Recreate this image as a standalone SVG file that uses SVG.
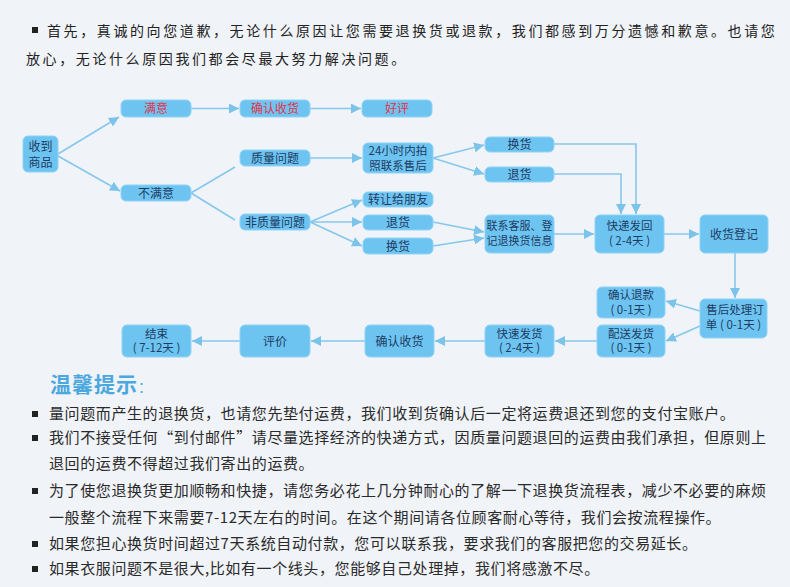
<svg xmlns="http://www.w3.org/2000/svg" width="790" height="587" viewBox="0 0 790 587">
<defs>
<marker id="arr" markerUnits="userSpaceOnUse" markerWidth="10" markerHeight="10" refX="10" refY="5" orient="auto">
<path d="M0,0 L10,5 L0,10 z" fill="#7cc3ea"/>
</marker>
<style>
.bg{fill:#f0f3f8}
.box{fill:#6ec4f1;stroke:#8fd3f6;stroke-width:1}
.nt{font-family:"Noto Sans CJK SC","Liberation Sans",sans-serif;font-size:12px;fill:#1d3c64;text-anchor:middle}
.red{fill:#e2334a}
.sm{font-size:11px}
.two{font-size:11.5px}
.con{fill:none;stroke:#86c8ec;stroke-width:1.6}
.ar{marker-end:url(#arr)}
.hd{font-family:"Noto Sans CJK SC","Liberation Sans",sans-serif;font-size:14px;fill:#222;letter-spacing:2.6px}
.bd{font-family:"Noto Sans CJK SC","Liberation Sans",sans-serif;font-size:15px;fill:#2a2a2a;letter-spacing:0.6px}
.bl{fill:#222}
.tt{font-family:"Noto Sans CJK SC","Liberation Sans",sans-serif;font-size:21px;font-weight:bold;fill:#4aa8de;letter-spacing:1px}
</style>
</defs>
<rect class="bg" x="0" y="0" width="790" height="587"/>

<g id="header">
<rect class="bl" x="32" y="27" width="6" height="6"/>
<text class="hd" x="47" y="36">首先，真诚的向您道歉，无论什么原因让您需要退换货或退款，我们都感到万分遗憾和歉意。也请您</text>
<text class="hd" x="26" y="64">放心，无论什么原因我们都会尽最大努力解决问题。</text>
</g>

<g id="connectors">
<path class="con ar" d="M58,154 L119,117"/>
<path class="con ar" d="M58,156 L120,191"/>
<path class="con ar" d="M191,108.5 L239,108.5"/>
<path class="con ar" d="M310,108.5 L361,108.5"/>
<path class="con" d="M191,193 L235,167"/>
<path class="con" d="M191,193 L235,220"/>
<path class="con ar" d="M310,158 L362,158"/>
<path class="con ar" d="M310,222 L362,200"/>
<path class="con ar" d="M310,222 L362,222"/>
<path class="con ar" d="M310,222 L362,246"/>
<path class="con ar" d="M433,158 L484,145"/>
<path class="con ar" d="M433,158 L484,174"/>
<path class="con ar" d="M433,222 L484,232"/>
<path class="con ar" d="M433,246 L484,238"/>
<path class="con ar" d="M554,144 L636,144 L636,214"/>
<path class="con ar" d="M554,174 L621,174 L621,214"/>
<path class="con ar" d="M554,234 L594,234"/>
<path class="con ar" d="M664,234 L699,234"/>
<path class="con ar" d="M735,253 L735,298"/>
<path class="con ar" d="M700,311 L666,301"/>
<path class="con ar" d="M700,326 L666,341"/>
<path class="con ar" d="M597,341 L555,341"/>
<path class="con ar" d="M485,341 L435,341"/>
<path class="con ar" d="M365,341 L311,341"/>
<path class="con ar" d="M240,341 L192,341"/>
</g>

<g id="n_received"><rect class="box" x="23" y="136" width="35" height="36" rx="5"/><text class="nt" x="40.5" y="150.5">收到</text><text class="nt" x="40.5" y="166.5">商品</text></g>
<g id="n_satisfied"><rect class="box" x="121" y="100" width="70" height="17" rx="5"/><text class="nt red" x="156" y="113">满意</text></g>
<g id="n_confirm1"><rect class="box" x="240" y="100" width="70" height="17" rx="5"/><text class="nt red" x="275" y="113">确认收货</text></g>
<g id="n_praise"><rect class="box" x="362" y="100" width="70" height="17" rx="5"/><text class="nt red" x="397" y="113">好评</text></g>
<g id="n_unsatisfied"><rect class="box" x="121" y="185" width="70" height="16" rx="5"/><text class="nt" x="156" y="197.5">不满意</text></g>
<g id="n_quality"><rect class="box" x="240" y="150" width="70" height="16" rx="5"/><text class="nt" x="275" y="162.5">质量问题</text></g>
<g id="n_nonquality"><rect class="box" x="240" y="214" width="70" height="16" rx="5"/><text class="nt" x="275" y="226.5">非质量问题</text></g>
<g id="n_24h"><rect class="box" x="363" y="143" width="70" height="30" rx="5"/><text class="nt two" x="398" y="154.5">24小时内拍</text><text class="nt two" x="398" y="169.5">照联系售后</text></g>
<g id="n_transfer"><rect class="box" x="363" y="192" width="70" height="15" rx="5"/><text class="nt" x="398" y="204">转让给朋友</text></g>
<g id="n_return1"><rect class="box" x="363" y="215" width="70" height="15" rx="5"/><text class="nt" x="398" y="227">退货</text></g>
<g id="n_exchange1"><rect class="box" x="363" y="238" width="70" height="16" rx="5"/><text class="nt" x="398" y="250.5">换货</text></g>
<g id="n_exchange2"><rect class="box" x="485" y="137" width="69" height="15" rx="5"/><text class="nt" x="519.5" y="149">换货</text></g>
<g id="n_return2"><rect class="box" x="485" y="167" width="69" height="15" rx="5"/><text class="nt" x="519.5" y="179">退货</text></g>
<g id="n_contact"><rect class="box" x="485" y="215" width="69" height="38" rx="5"/><text class="nt sm" x="519.5" y="230">联系客服、登</text><text class="nt sm" x="519.5" y="245">记退换货信息</text></g>
<g id="n_express_back"><rect class="box" x="595" y="215" width="69" height="38" rx="5"/><text class="nt two" x="629.5" y="230">快递发回</text><text class="nt two" x="629.5" y="245">( 2-4天 )</text></g>
<g id="n_register"><rect class="box" x="700" y="215" width="68" height="38" rx="5"/><text class="nt" x="734" y="238.5">收货登记</text></g>
<g id="n_aftersale"><rect class="box" x="700" y="299" width="67" height="39" rx="5"/><text class="nt two" x="735" y="314">售后处理订</text><text class="nt two" x="733.5" y="329">单 ( 0-1天 )</text></g>
<g id="n_refund"><rect class="box" x="597" y="287" width="68" height="31" rx="5"/><text class="nt two" x="631" y="299">确认退款</text><text class="nt two" x="631" y="313.5">( 0-1天 )</text></g>
<g id="n_ship"><rect class="box" x="597" y="325" width="68" height="32" rx="5"/><text class="nt two" x="631" y="337.5">配送发货</text><text class="nt two" x="631" y="352">( 0-1天 )</text></g>
<g id="n_fastship"><rect class="box" x="485" y="325" width="69" height="32" rx="5"/><text class="nt two" x="519.5" y="337.5">快速发货</text><text class="nt two" x="519.5" y="352">( 2-4天 )</text></g>
<g id="n_confirm2"><rect class="box" x="365" y="325" width="69" height="32" rx="5"/><text class="nt" x="399.5" y="345.5">确认收货</text></g>
<g id="n_review"><rect class="box" x="240" y="325" width="70" height="32" rx="5"/><text class="nt" x="275" y="345.5">评价</text></g>
<g id="n_end"><rect class="box" x="122" y="325" width="69" height="32" rx="5"/><text class="nt two" x="156.5" y="337.5">结束</text><text class="nt two" x="156.5" y="352">( 7-12天 )</text></g>

<g id="tips">
<text class="tt" x="50" y="392">温馨提示<tspan style="font-size:14px;font-weight:normal">：</tspan></text>
<rect class="bl" x="32" y="411" width="6" height="6"/>
<text class="bd" x="49" y="419">量问题而产生的退换货，也请您先垫付运费，我们收到货确认后一定将运费退还到您的支付宝账户。</text>
<rect class="bl" x="32" y="435" width="6" height="6"/>
<text class="bd" x="49" y="443">我们不接受任何“到付邮件”请尽量选择经济的快递方式，因质量问题退回的运费由我们承担，但原则上</text>
<text class="bd" x="49" y="469">退回的运费不得超过我们寄出的运费。</text>
<rect class="bl" x="32" y="488" width="6" height="6"/>
<text class="bd" x="49" y="496">为了使您退换货更加顺畅和快捷，请您务必花上几分钟耐心的了解一下退换货流程表，减少不必要的麻烦</text>
<text class="bd" x="49" y="523">一般整个流程下来需要7-12天左右的时间。在这个期间请各位顾客耐心等待，我们会按流程操作。</text>
<rect class="bl" x="32" y="541" width="6" height="6"/>
<text class="bd" x="49" y="549">如果您担心换货时间超过7天系统自动付款，您可以联系我，要求我们的客服把您的交易延长。</text>
<rect class="bl" x="32" y="566" width="6" height="6"/>
<text class="bd" x="49" y="574">如果衣服问题不是很大,比如有一个线头，您能够自己处理掉，我们将感激不尽。</text>
</g>
</svg>
